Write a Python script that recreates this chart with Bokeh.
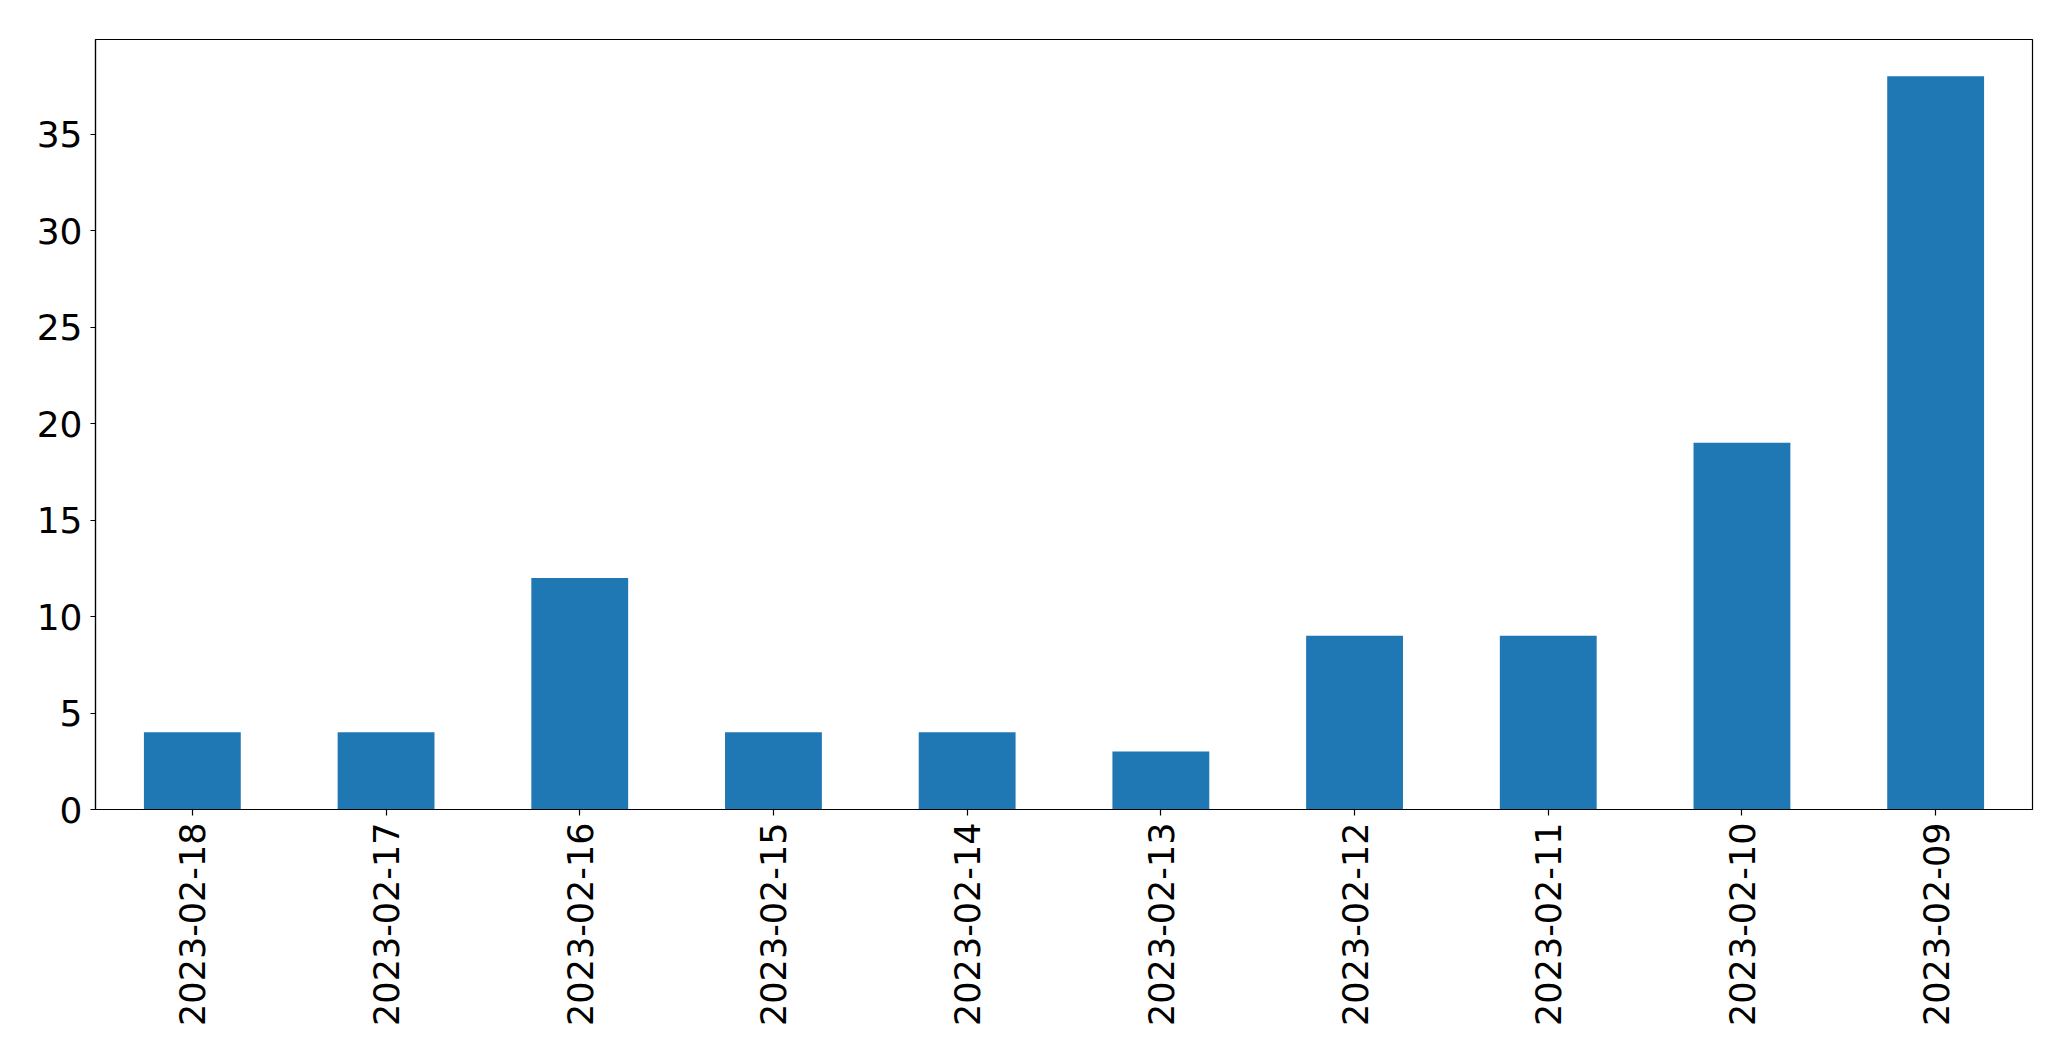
import math
from bokeh.plotting import figure
from bokeh.models import ColumnDataSource, FactorRange, Range1d, FixedTicker
from bokeh.embed import file_html
from bokeh.resources import INLINE

dates = ["2023-02-18", "2023-02-17", "2023-02-16", "2023-02-15", "2023-02-14",
         "2023-02-13", "2023-02-12", "2023-02-11", "2023-02-10", "2023-02-09"]
counts = [4, 4, 12, 4, 4, 3, 9, 9, 19, 38]
y_ticks = [0, 5, 10, 15, 20, 25, 30, 35]

source = ColumnDataSource(data=dict(date=dates, count=counts))

p = figure(width=2071, height=1061,
           x_range=FactorRange(*dates),
           y_range=Range1d(0, max(counts) * 1.05),
           output_backend="svg", toolbar_location=None,
           min_border_left=95, min_border_right=39,
           min_border_top=39, min_border_bottom=252)

p.vbar(x="date", top="count", width=0.5, source=source,
       fill_color="#1f77b4", line_color=None)

p.xgrid.visible = False
p.ygrid.visible = False
p.outline_line_color = "black"
p.outline_line_width = 1.2
p.background_fill_color = "white"
p.border_fill_color = "white"

for ax in (p.xaxis, p.yaxis):
    ax.axis_line_color = "black"
    ax.axis_line_width = 1.2
    ax.major_tick_line_color = "black"
    ax.major_tick_line_width = 1.2
    ax.major_tick_in = 0
    ax.minor_tick_line_color = None
    ax.major_label_text_font = "DejaVu Sans"
    ax.major_label_text_color = "black"

p.xaxis.major_label_text_font_size = "35px"
p.yaxis.major_label_text_font_size = "36px"
p.yaxis.ticker = FixedTicker(ticks=y_ticks)
p.yaxis.major_tick_out = 5
p.yaxis.major_label_standoff = 8
p.xaxis.major_tick_out = 6
p.xaxis.major_label_standoff = 7
p.xaxis.major_label_orientation = math.pi / 2

open("out.html", "w").write(file_html(p, INLINE))
